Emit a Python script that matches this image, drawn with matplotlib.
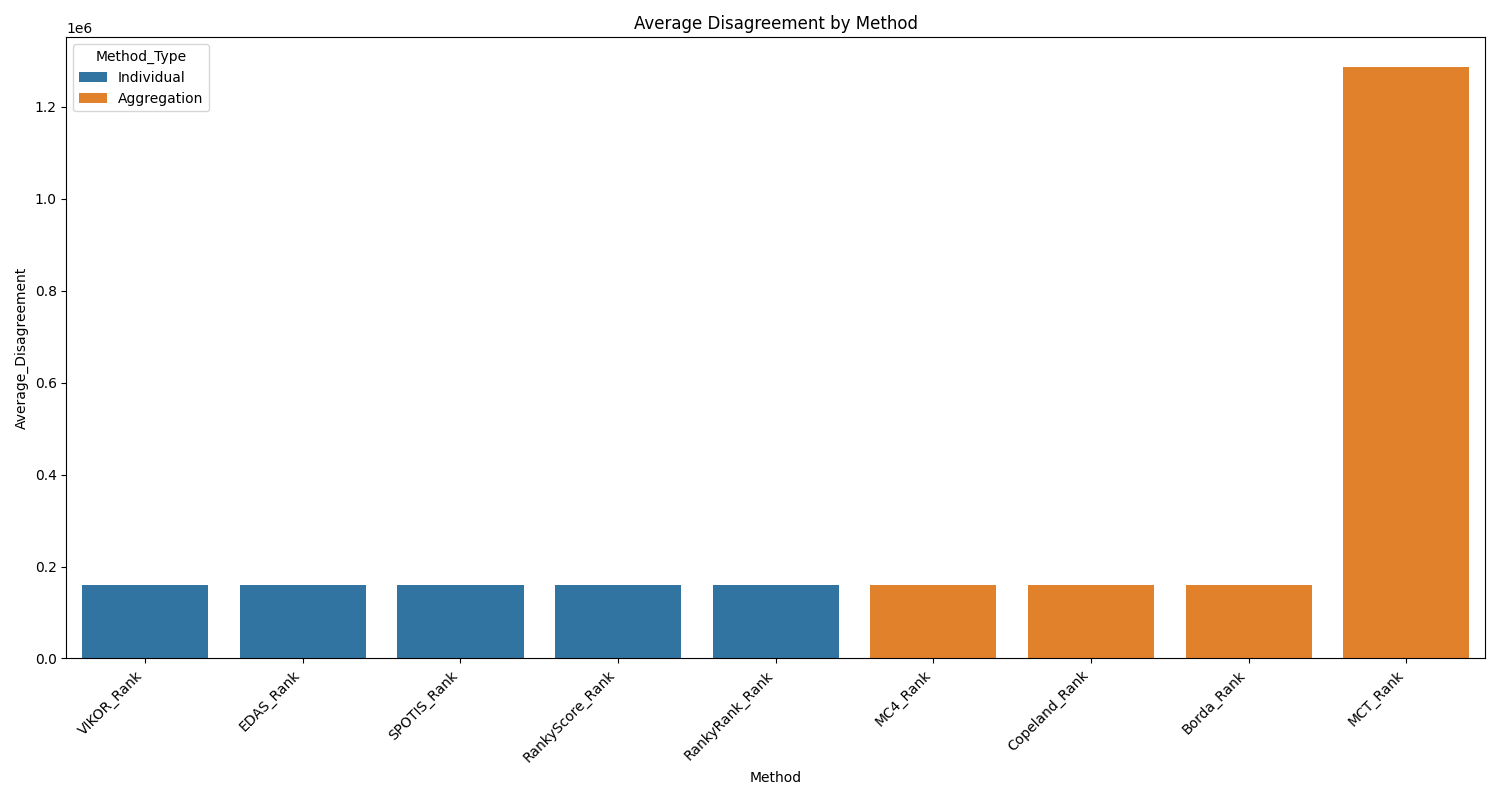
import matplotlib
matplotlib.use("Agg")
import matplotlib.pyplot as plt
import seaborn as sns
import pandas as pd

methods = ["VIKOR_Rank", "EDAS_Rank", "SPOTIS_Rank", "RankyScore_Rank", "RankyRank_Rank",
           "MC4_Rank", "Copeland_Rank", "Borda_Rank", "MCT_Rank"]
values = [160500, 160500, 160500, 160500, 160500, 160500, 160500, 160500, 1287000]
types = ["Individual"] * 5 + ["Aggregation"] * 4

df = pd.DataFrame({"Method": methods, "Average_Disagreement": values, "Method_Type": types})

fig, ax = plt.subplots(figsize=(15, 8), dpi=100)
sns.barplot(data=df, x="Method", y="Average_Disagreement", hue="Method_Type", dodge=False, ax=ax)
ax.set_title("Average Disagreement by Method")
plt.setp(ax.get_xticklabels(), rotation=45, ha="right")
plt.tight_layout()
fig.savefig("out.png")
